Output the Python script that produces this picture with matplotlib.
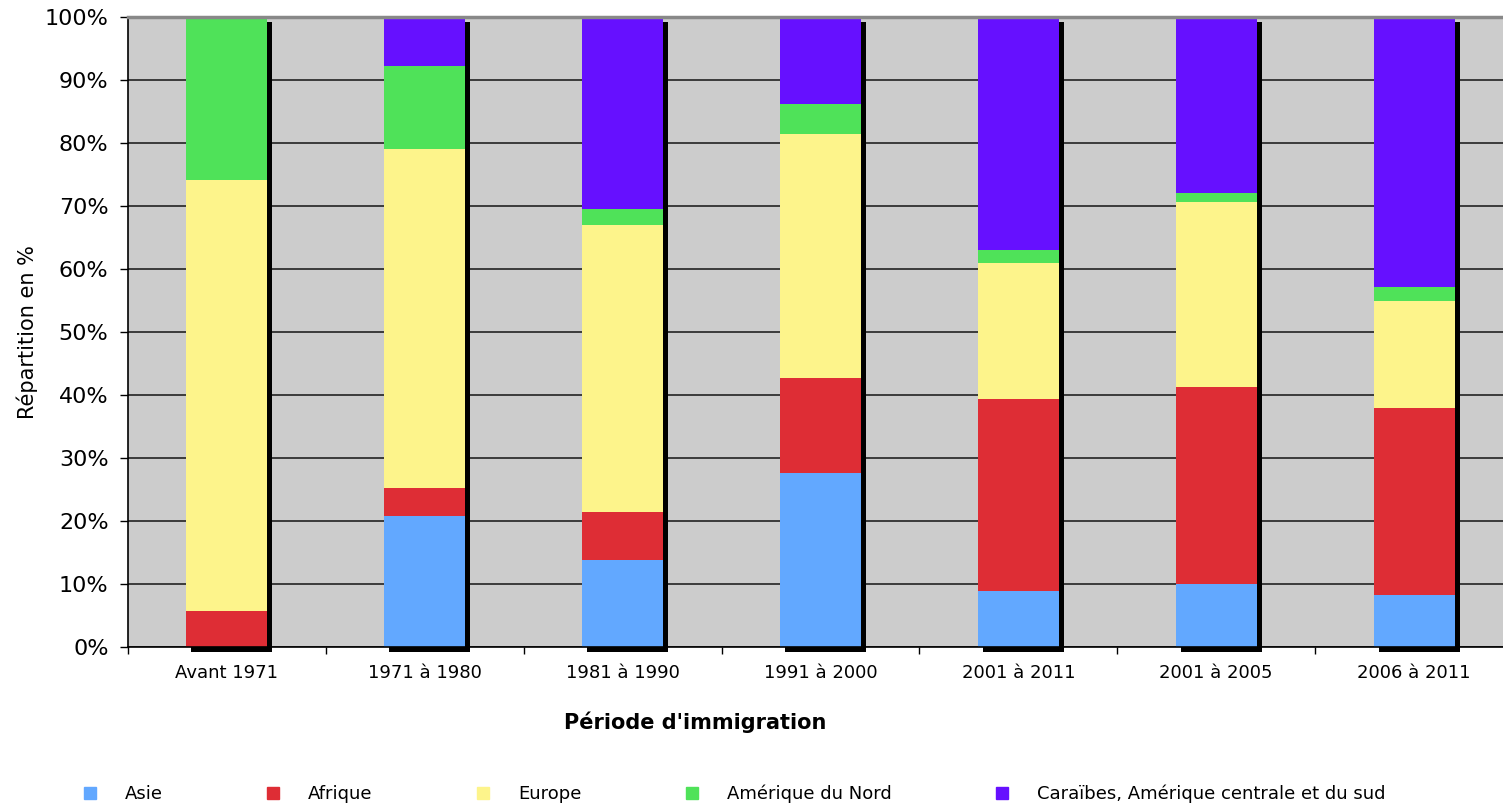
import matplotlib
matplotlib.use("Agg")
import matplotlib.pyplot as plt
import matplotlib.transforms as mtransforms
from matplotlib.lines import Line2D
import numpy as np

periodes = ["Avant 1971", "1971 à 1980", "1981 à 1990", "1991 à 2000",
            "2001 à 2011", "2001 à 2005", "2006 à 2011"]
asie = [0.0, 20.8, 13.8, 27.6, 8.9, 10.0, 8.3]
afrique = [5.7, 4.4, 7.6, 15.1, 30.5, 31.3, 29.6]
europe = [68.4, 53.8, 45.6, 38.7, 21.6, 29.3, 17.0]
amerique_nord = [25.9, 13.2, 2.5, 4.8, 2.0, 1.5, 2.2]
caraibes = [0.0, 7.8, 30.5, 13.8, 37.0, 27.9, 42.9]

series = [
    ("Asie", asie, "#62a8ff"),
    ("Afrique", afrique, "#de2d35"),
    ("Europe", europe, "#fdf48b"),
    ("Amérique du Nord", amerique_nord, "#4fe259"),
    ("Caraïbes, Amérique centrale et du sud", caraibes, "#6610ff"),
]

fig = plt.figure(figsize=(15.03, 8.06), dpi=100)
# plot area runs past the right edge of the figure, as in the original
ax = fig.add_axes([128 / 1503, 1 - 647 / 806, 1385 / 1503, (647 - 17) / 806])
ax.set_facecolor("#cccccc")

x = np.arange(len(periodes))
width = 0.41

# shadow behind each stack
totals = np.sum([s[1] for s in series], axis=0)
shift = mtransforms.ScaledTranslation(5 / 100, -5 / 100, fig.dpi_scale_trans)
ax.bar(x, totals, width, color="black", zorder=1, clip_on=False,
       transform=ax.transData + shift)

bottom = np.zeros(len(periodes))
for name, vals, col in series:
    ax.bar(x, vals, width, bottom=bottom, color=col, zorder=2, label=name)
    bottom += np.array(vals)

ax.set_xlim(-0.5, len(periodes) - 0.5)
ax.set_ylim(0, 100)
ax.set_yticks(np.arange(0, 101, 10))
ax.set_yticklabels([f"{v}%" for v in range(0, 101, 10)], fontsize=16)
ax.yaxis.grid(True, color="#222222", linewidth=1.2, zorder=0.5)
ax.set_axisbelow(True)

ax.set_xticks(x)
ax.set_xticklabels(periodes, fontsize=13)
ax.tick_params(axis="x", length=0, pad=12)
ax.set_xticks(np.arange(-0.5, len(periodes), 1), minor=True)
ax.tick_params(axis="x", which="minor", length=5, width=1)
ax.tick_params(axis="y", length=6, width=1, pad=8)

ax.spines["top"].set_color("#888888")
ax.spines["top"].set_linewidth(2.5)
ax.spines["right"].set_visible(False)
ax.spines["left"].set_linewidth(1.2)
ax.spines["bottom"].set_linewidth(1.2)

fig.text(695 / 1503, 1 - 722 / 806, "Période d'immigration", fontsize=15,
         fontweight="bold", ha="center", va="center")
ax.set_ylabel("Répartition en %", fontsize=15, labelpad=5)

handles = [Line2D([], [], marker="s", linestyle="none", markersize=8,
                  markerfacecolor=c, markeredgecolor=c) for _, _, c in series]
fig.legend(handles, [s[0] for s in series], loc="center",
           bbox_to_anchor=(733 / 1503, 12 / 806), ncol=5, frameon=False,
           fontsize=13, handlelength=1, handletextpad=1.45, columnspacing=5.6)

fig.savefig("out.png", dpi=100)
